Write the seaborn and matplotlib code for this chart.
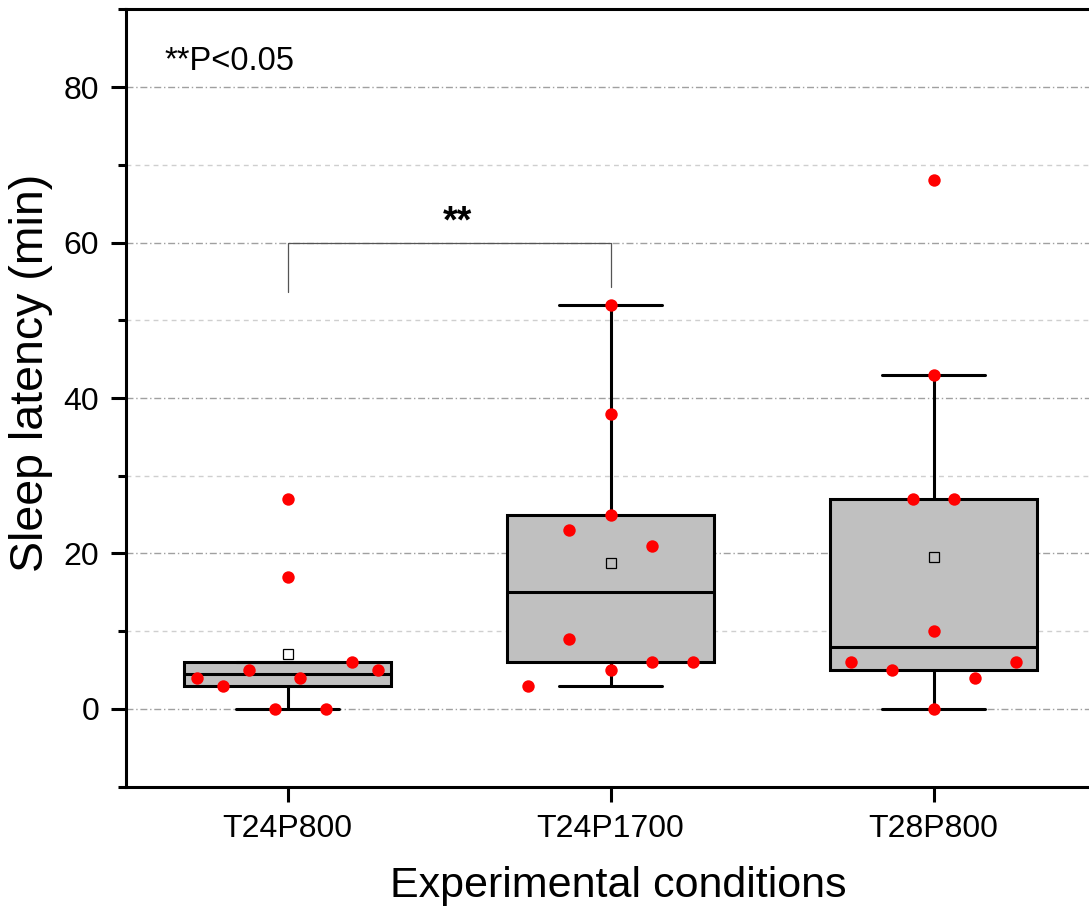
import numpy as np
import pandas as pd
import matplotlib
matplotlib.use("Agg")
import matplotlib.cbook as cbook
import matplotlib.pyplot as plt
import seaborn as sns
from matplotlib.ticker import FixedLocator, MultipleLocator

# ---------------- data ----------------
conditions = ["T24P800", "T24P1700", "T28P800"]
t24p800 = [4, 3, 5, 0, 4, 0, 6, 5, 17, 27]
t24p1700 = [3, 9, 5, 6, 6, 23, 25, 21, 38, 52]
t28p800 = [6, 5, 0, 4, 6, 10, 27, 27, 43, 68]
y_ticks = [0, 20, 40, 60, 80]
sig_label = "**"
p_note = "**P<0.05"
x_title = "Experimental conditions"
y_title = "Sleep latency (min)"

series = [t24p800, t24p1700, t28p800]

sns.set_theme(style="ticks")
plt.rcParams["font.family"] = ["Liberation Sans", "DejaVu Sans"]

df = pd.DataFrame({
    "condition": np.concatenate([[c] * len(s) for c, s in zip(conditions, series)]),
    "latency": np.concatenate(series).astype(float),
})


def bin_offsets(values, bin_width=10.0, span=0.64):
    """Origin-like binned horizontal spreading of data points."""
    v = np.asarray(values, float)
    b = np.floor(v / bin_width).astype(int)
    keys = np.unique(b)
    nmax = max(int(np.sum(b == k)) for k in keys)
    step = span / nmax
    off = np.zeros(len(v))
    for k in keys:
        idx = np.where(b == k)[0]
        n = len(idx)
        off[idx] = (np.arange(n) - (n - 1) / 2) * step
    return off


# Box statistics with Tukey hinges (as in the original software)
_orig_stats = cbook.boxplot_stats


def tukey_boxplot_stats(X, whis=1.5, bootstrap=None, labels=None, autorange=False):
    out = _orig_stats(X, whis=whis, bootstrap=bootstrap, labels=labels,
                      autorange=autorange)
    data_list = cbook._reshape_2D(X, "X")
    for st, x in zip(out, data_list):
        x = np.sort(np.asarray(x, float))
        n = len(x)
        if n == 0:
            continue
        q1 = np.median(x[: (n + 1) // 2])
        q3 = np.median(x[n // 2:])
        iqr = q3 - q1
        lo, hi = q1 - whis * iqr, q3 + whis * iqr
        st["q1"], st["q3"], st["iqr"] = q1, q3, iqr
        st["whislo"] = x[x >= lo].min()
        st["whishi"] = x[x <= hi].max()
        st["fliers"] = x[(x < lo) | (x > hi)]
    return out


xpos = np.concatenate([i + bin_offsets(s) for i, s in enumerate(series)])

W, H = 1089, 907
fig = plt.figure(figsize=(W / 100, H / 100), dpi=100)
ax = fig.add_axes([126 / W, 1 - 786.7 / H, 969 / W, 777.4 / H])

cbook.boxplot_stats = tukey_boxplot_stats
matplotlib.cbook.boxplot_stats = tukey_boxplot_stats
try:
    sns.boxplot(
        data=df, x="condition", y="latency", order=conditions, ax=ax,
        width=0.64, color="#C0C0C0", linecolor="black", linewidth=2.2,
        saturation=1, showfliers=False, whis=1.5, showmeans=True,
        meanprops=dict(marker="s", markerfacecolor="none", markeredgecolor="black",
                       markersize=7, markeredgewidth=0.9),
    )
finally:
    cbook.boxplot_stats = _orig_stats
    matplotlib.cbook.boxplot_stats = _orig_stats

sns.scatterplot(x=xpos, y=df["latency"].values, color="red", s=80,
                linewidth=0, ax=ax, zorder=5)

ax.set_xlim(-0.5, 2.5)
ax.set_ylim(-10, 90)

ax.set_xticks(range(len(conditions)))
ax.set_xticklabels(conditions)
ax.yaxis.set_major_locator(FixedLocator(y_ticks))
ax.yaxis.set_minor_locator(MultipleLocator(10))

ax.set_axisbelow(True)
ax.grid(which="major", axis="y", color="#a0a0a0", linewidth=1.0,
        linestyle=(0, (5, 2, 1, 2)))
ax.grid(which="minor", axis="y", color="#cfcfcf", linewidth=1.0,
        linestyle=(0, (3.5, 3)))
ax.grid(which="both", axis="x", visible=False)

for side in ["left", "bottom", "top"]:
    ax.spines[side].set_visible(True)
    ax.spines[side].set_color("black")
    ax.spines[side].set_linewidth(2.2)
ax.spines["right"].set_visible(False)

ax.tick_params(axis="both", which="major", direction="out", length=10.8,
               width=2.2, color="black", labelsize=23, labelcolor="black",
               top=False, right=False)
ax.tick_params(axis="y", which="minor", direction="out", length=5.8,
               width=2.2, color="black", right=False)
ax.tick_params(axis="x", which="minor", bottom=False, top=False)
ax.tick_params(axis="x", which="major", pad=9.2)
ax.tick_params(axis="y", which="major", pad=8.4)

ax.set_xlabel(x_title, fontsize=31, color="black")
ax.set_ylabel(y_title, fontsize=33.5, color="black")
ax.xaxis.set_label_coords(0.508, -0.102)
ax.yaxis.set_label_coords(-0.0753, 0.532)

# significance bracket
ax.plot([0, 0, 1, 1], [53.6, 60, 60, 54.3], color="#555555", linewidth=0.9,
        zorder=4)
ax.text(0.526, 61.35, sig_label, ha="center", va="baseline", fontsize=27,
        fontweight="bold", color="black")

ax.text(0.040, 0.9219, p_note, transform=ax.transAxes, ha="left",
        va="baseline", fontsize=23.5, color="black")

fig.savefig("out.png", dpi=100)
